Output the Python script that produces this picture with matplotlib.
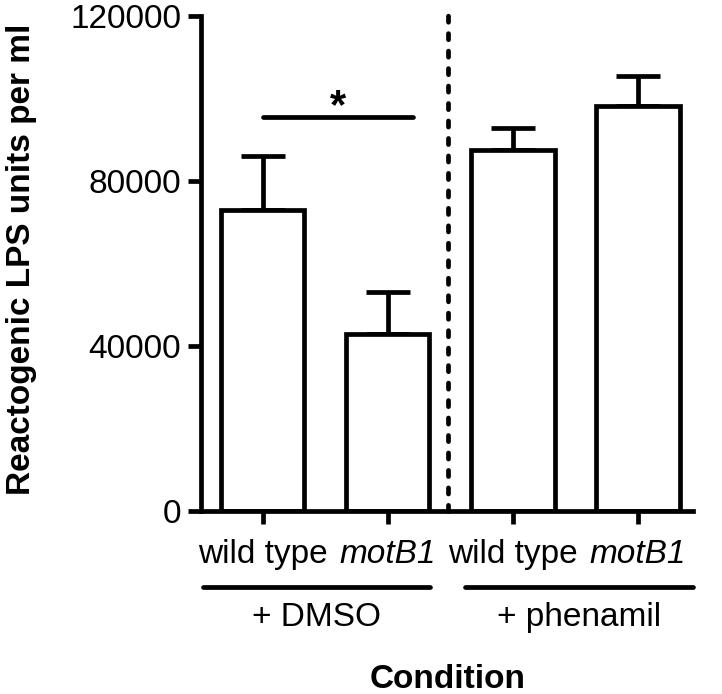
import matplotlib.pyplot as plt
from matplotlib import transforms

plt.rcParams["font.family"] = ["Liberation Sans", "DejaVu Sans"]

# Data
strains = ["wild type", "motB1", "wild type", "motB1"]
means = [73000, 43000, 87500, 98200]
errors = [13000, 10000, 5300, 7300]
groups = ["+ DMSO", "+ phenamil"]
yticks = [0, 40000, 80000, 120000]

lw = 3.4
fs = 24

fig = plt.figure(figsize=(7.22, 6.94), dpi=100)
ax = fig.add_axes([0.279, 0.2637, 0.681, 0.7133])

x = list(range(len(strains)))
ax.bar(x, means, width=0.665, color="white", edgecolor="black", linewidth=lw, zorder=2)
ax.errorbar(
    x,
    means,
    yerr=[[0] * len(errors), errors],
    fmt="none",
    ecolor="black",
    elinewidth=lw,
    capsize=16,
    capthick=lw,
    zorder=1,
)

ax.set_xlim(-0.49, 3.44)
ax.set_ylim(0, 120000)
ax.set_yticks(yticks)
ax.set_yticklabels([str(v) for v in yticks], fontsize=fs)
ax.set_xticks(x)
ax.set_xticklabels(strains, fontsize=fs)
for i, lab in enumerate(ax.get_xticklabels()):
    if strains[i] == "motB1":
        lab.set_fontstyle("italic")

ax.tick_params(axis="both", width=lw, length=9.5, direction="out")
ax.tick_params(axis="y", pad=5)
ax.tick_params(axis="x", pad=11)

for side in ["top", "right"]:
    ax.spines[side].set_visible(False)
for side in ["left", "bottom"]:
    ax.spines[side].set_linewidth(lw)

# dotted divider between treatment groups
ax.plot(
    [1.48, 1.48],
    [0, 122500],
    color="black",
    linewidth=lw,
    linestyle=(0, (1.3, 2.4)),
    dash_capstyle="round",
    clip_on=False,
    zorder=3,
)

# significance bar
ax.plot([0, 1.2], [95500, 95500], color="black", linewidth=lw, solid_capstyle="round")
ax.text(0.6, 93000, "*", ha="center", va="bottom", fontsize=30, fontweight="bold")

# group underlines and labels
trans = transforms.blended_transform_factory(ax.transData, ax.transAxes)
spans = [(-0.48, 1.34), (1.62, 3.44)]
for (x0, x1), name in zip(spans, groups):
    ax.plot([x0, x1], [-0.1535, -0.1535], transform=trans, color="black",
            linewidth=lw, solid_capstyle="round", clip_on=False)
    ax.text((x0 + x1) / 2, -0.216, name, transform=trans, ha="center",
            va="center", fontsize=fs)

ax.text(0.5, -0.341, "Condition", transform=ax.transAxes, ha="center",
        va="center", fontsize=fs, fontweight="bold")
fig.text(0.03, 0.626, "Reactogenic LPS units per ml", rotation=90, ha="center",
         va="center", fontsize=24, fontweight="bold")

fig.savefig("out.png", dpi=100)
